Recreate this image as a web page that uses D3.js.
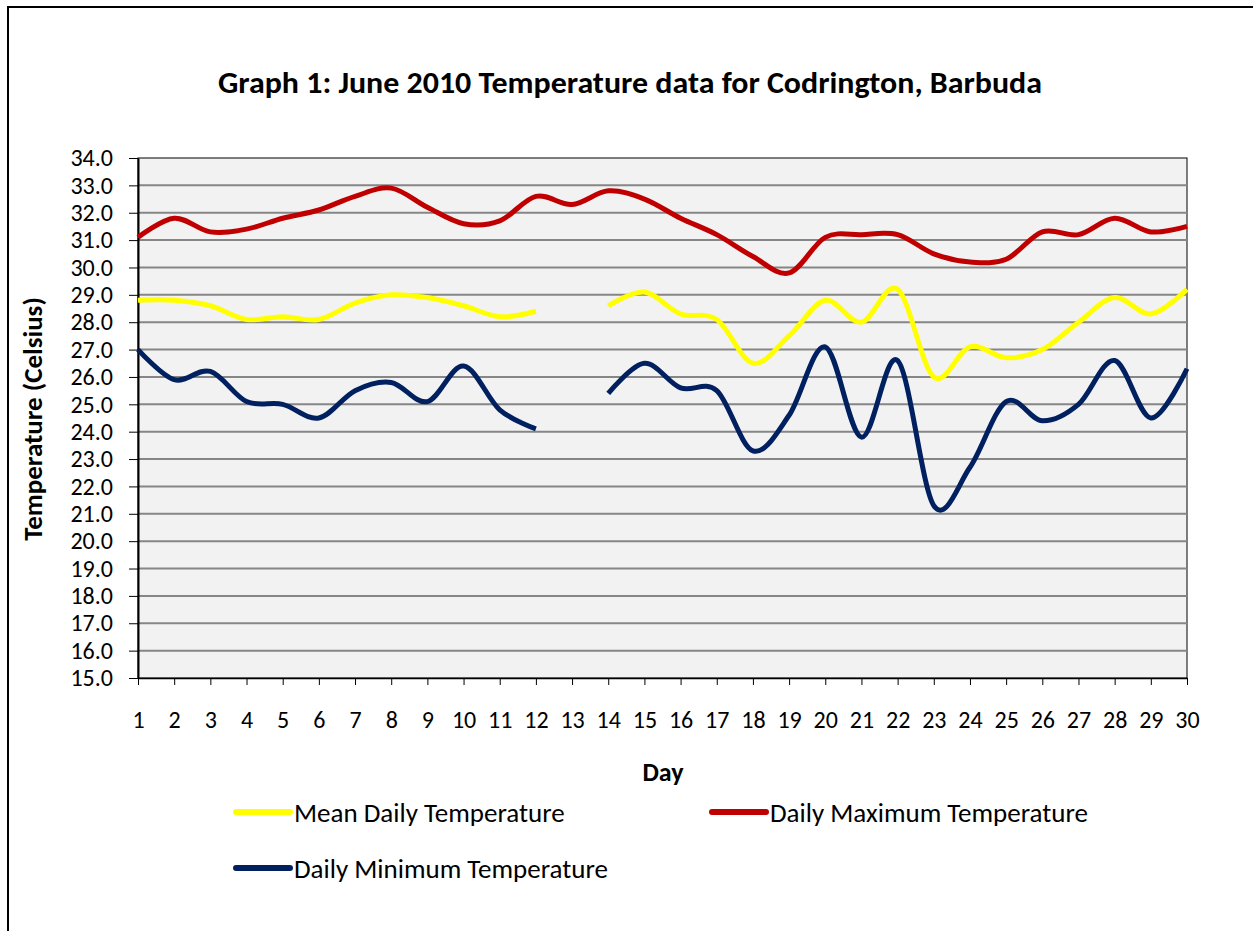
<html>
	<head>
		<meta charset="UTF-8">
		<title>June 2010 Temperature - Codrington</title>
		<script src="https://d3js.org/d3.v7.min.js"></script>
		<style>
        html,body{
            width:100%;height:100%;margin:0;padding:0;background:#fff;
        }
        text { font-family: Carlito, Calibri, Lato, sans-serif; fill:#000; }
        .grid line { stroke:#868686; stroke-width:2; }
        .axis path, .axis line { stroke:#000; }
        </style>
	</head>
	<body>
		<div id="container"></div>
		<script>
            // days of June 2010, null = no reading
            const days = [1,2,3,4,5,6,7,8,9,10,11,12,13,14,15,16,17,18,19,20,21,22,23,24,25,26,27,28,29,30]
            const meanTemp = [28.8,28.8,28.6,28.1,28.2,28.1,28.7,29.0,28.9,28.6,28.2,28.4,null,28.6,29.1,28.3,28.1,26.5,27.5,28.8,28.0,29.2,26.0,27.1,26.7,27.0,28.0,28.9,28.3,29.2]
            const maxTemp = [31.1,31.8,31.3,31.4,31.8,32.1,32.6,32.9,32.2,31.6,31.7,32.6,32.3,32.8,32.5,31.8,31.2,30.4,29.8,31.1,31.2,31.2,30.5,30.2,30.3,31.3,31.2,31.8,31.3,31.5]
            const minTemp = [27.0,25.9,26.2,25.1,25.0,24.5,25.5,25.8,25.1,26.4,24.8,24.1,null,25.4,26.5,25.6,25.5,23.3,24.6,27.1,23.8,26.6,21.3,22.7,25.1,24.4,25.0,26.6,24.5,26.3]
            const yTicks = [15,16,17,18,19,20,21,22,23,24,25,26,27,28,29,30,31,32,33,34]
            const seriesNames = ["Mean Daily Temperature", "Daily Maximum Temperature", "Daily Minimum Temperature"]

            const W = 1253, H = 931
            const plot = { left: 138, right: 1187, top: 158, bottom: 678 }

            const xScale = d3.scalePoint()
                .domain(days)
                .range([plot.left, plot.right])

            const yScale = d3.scaleLinear()
                .domain([15, 34])
                .range([plot.bottom, plot.top])

            const line = d3.line()
                .defined(d => d.v != null)
                .x(d => xScale(d.day))
                .y(d => yScale(d.v))
                .curve(d3.curveCardinal.tension(0))

            const series = [
                { name: seriesNames[0], values: meanTemp, color: "#ffff00" },
                { name: seriesNames[1], values: maxTemp, color: "#c00000" },
                { name: seriesNames[2], values: minTemp, color: "#002060" }
            ]

            function render() {
                const svg = d3.select("#container").append("svg")
                    .attr("width", W)
                    .attr("height", H)

                // outer chart frame (only top + left visible in the crop)
                svg.append("rect")
                    .attr("x", 8).attr("y", 7)
                    .attr("width", W + 20).attr("height", H + 20)
                    .attr("fill", "#fff")
                    .attr("stroke", "#000").attr("stroke-width", 2)

                svg.append("text")
                    .attr("x", 630).attr("y", 93)
                    .attr("text-anchor", "middle")
                    .attr("font-weight", "bold")
                    .attr("font-size", 30)
                    .attr("textLength", 824)
                    .attr("lengthAdjust", "spacingAndGlyphs")
                    .text("Graph 1: June 2010 Temperature data for Codrington, Barbuda")

                // plot background
                svg.append("rect")
                    .attr("x", plot.left).attr("y", plot.top)
                    .attr("width", plot.right - plot.left)
                    .attr("height", plot.bottom - plot.top)
                    .attr("fill", "#f2f2f2")
                    .attr("stroke", "#000").attr("stroke-width", 1)

                svg.append("g")
                    .attr("class", "grid")
                    .selectAll("line")
                    .data(yTicks.slice(1, -1))
                    .enter().append("line")
                    .attr("x1", plot.left).attr("x2", plot.right)
                    .attr("y1", d => yScale(d)).attr("y2", d => yScale(d))

                // y axis
                const yAxis = svg.append("g")
                    .attr("class", "axis")
                    .attr("transform", "translate(" + plot.left + ",0)")
                    .call(d3.axisLeft(yScale).tickValues(yTicks).tickFormat(d3.format(".1f")).tickSize(9).tickSizeOuter(0).tickPadding(16))
                yAxis.select(".domain").attr("stroke-width", 2)
                yAxis.selectAll("text").attr("font-size", 24).attr("font-family", null)

                // x axis
                const xAxis = svg.append("g")
                    .attr("class", "axis")
                    .attr("transform", "translate(0," + plot.bottom + ")")
                    .call(d3.axisBottom(xScale).tickSize(7).tickSizeOuter(0).tickPadding(26))
                xAxis.select(".domain").attr("stroke-width", 1.5)
                xAxis.selectAll("text").attr("font-size", 24).attr("font-family", null)

                svg.append("text")
                    .attr("transform", "translate(42,419) rotate(-90)")
                    .attr("text-anchor", "middle")
                    .attr("font-weight", "bold")
                    .attr("font-size", 27)
                    .text("Temperature (Celsius)")

                svg.append("text")
                    .attr("x", 663).attr("y", 781)
                    .attr("text-anchor", "middle")
                    .attr("font-weight", "bold")
                    .attr("font-size", 26)
                    .text("Day")

                // series lines
                svg.append("g").selectAll("path")
                    .data(series)
                    .enter().append("path")
                    .attr("fill", "none")
                    .attr("stroke", d => d.color)
                    .attr("stroke-width", 5)
                    .attr("stroke-linejoin", "round")
                    .attr("d", d => line(d.values.map((v, i) => ({ day: days[i], v: v }))))

                // legend
                const legendPos = [[236, 812], [712, 812], [236, 868]]
                const lg = svg.append("g").selectAll("g")
                    .data(series)
                    .enter().append("g")
                    .attr("transform", (d, i) => "translate(" + legendPos[i][0] + "," + legendPos[i][1] + ")")
                lg.append("line")
                    .attr("x1", 0).attr("x2", 54)
                    .attr("stroke", d => d.color)
                    .attr("stroke-width", 6)
                    .attr("stroke-linecap", "round")
                lg.append("text")
                    .attr("x", 58).attr("y", 10)
                    .attr("font-size", 27)
                    .text(d => d.name)
            }

            render()
        </script>
</body>
</html>
